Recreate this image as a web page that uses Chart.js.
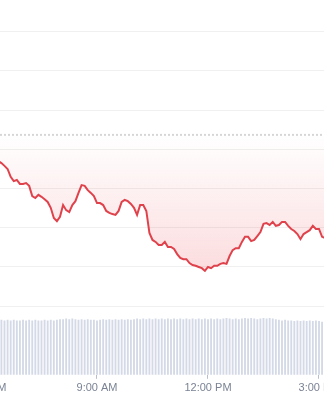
<!DOCTYPE html>
<html>
<head>
<meta charset="utf-8">
<script src="https://cdn.jsdelivr.net/npm/chart.js@4.4.1/dist/chart.umd.min.js"></script>
<style>
  html, body { margin: 0; padding: 0; background: #fff; overflow: hidden; }
  #wrap { position: relative; width: 324px; height: 400px; overflow: hidden; }
  .box { position: absolute; left: -40px; width: 420px; }
</style>
</head>
<body>
<div id="wrap">
  <div class="box" style="top:0;height:312px"><canvas id="priceChart" width="420" height="312"></canvas></div>
  <div class="box" style="top:312px;height:88px"><canvas id="volumeChart" width="420" height="88"></canvas></div>
</div>
<script>
// minutes since midnight, one sample every 5 minutes
const startMinute = 380;
const stepMinutes = 5;

const prices = [
  62.70, 62.65, 62.58, 62.50, 62.30, 62.19, 62.22, 62.12, 62.12, 62.14,
  62.07, 61.81, 61.76, 61.84, 61.79, 61.73, 61.66, 61.51, 61.25, 61.17,
  61.28, 61.58, 61.45, 61.40, 61.58, 61.68, 61.89, 62.09, 62.07, 61.96,
  61.89, 61.81, 61.63, 61.63, 61.58, 61.43, 61.38, 61.35, 61.33, 61.43,
  61.66, 61.71, 61.68, 61.61, 61.51, 61.33, 61.58, 61.58, 61.43, 60.87,
  60.69, 60.64, 60.56, 60.56, 60.64, 60.51, 60.51, 60.46, 60.33, 60.23,
  60.20, 60.20, 60.10, 60.05, 60.03, 60.00, 59.97, 59.90, 60.00, 59.97,
  60.03, 60.03, 60.08, 60.10, 60.08, 60.28, 60.43, 60.48, 60.48, 60.64,
  60.77, 60.77, 60.66, 60.69, 60.79, 60.89, 61.10, 61.12, 61.07, 61.15,
  61.05, 61.07, 61.15, 61.15, 61.05, 60.97, 60.92, 60.84, 60.71, 60.84,
  60.89, 60.94, 61.05, 60.97, 60.97, 60.77, 60.74
];

const volumes = [
  86, 87, 86, 87, 86, 87, 86, 86, 87, 86, 87,
  86, 87, 86, 86, 87, 86, 87, 86, 87, 88,
  88, 89, 88, 89, 88, 87, 88, 87, 88, 87,
  87, 86, 87, 88, 87, 88, 87, 88, 87, 88,
  87, 88, 87, 88, 89, 88, 89, 88, 89, 88,
  89, 88, 89, 88, 89, 88, 89, 88, 89, 88,
  89, 88, 89, 88, 89, 88, 89, 88, 89, 88,
  89, 88, 89, 90, 89, 88, 89, 88, 89, 90,
  89, 90, 89, 88, 89, 90, 89, 90, 89, 88,
  87, 86, 87, 86, 86, 85, 86, 85, 86, 85,
  86, 85, 86, 85, 84, 85
];

const openPrice = 63.37;
const priceGrid = [59, 60, 61, 62, 63, 64, 65, 66];
const tickValues = [360, 540, 720, 900];
const tickLabels = ['6:00 AM', '9:00 AM', '12:00 PM', '3:00 PM'];

const xMin = 317.84;
const xMax = 998.92;

const times = prices.map((_, i) => startMinute + i * stepMinutes);
const pricePoints = prices.map((p, i) => ({ x: times[i], y: p }));
const volumePoints = volumes.map((v, i) => ({ x: times[i], y: v }));

function redFill(context) {
  const chart = context.chart;
  const { ctx, chartArea, scales } = chart;
  if (!chartArea) return 'rgba(234,57,67,0.1)';
  const top = scales.y.getPixelForValue(openPrice);
  const bottom = scales.y.getPixelForValue(59.8);
  const g = ctx.createLinearGradient(0, top, 0, bottom);
  g.addColorStop(0, 'rgba(234,57,67,0.0)');
  g.addColorStop(1, 'rgba(234,57,67,0.18)');
  return g;
}

new Chart(document.getElementById('priceChart'), {
  type: 'line',
  data: {
    datasets: [
      {
        data: pricePoints,
        borderColor: '#e0424b',
        borderWidth: 2,
        pointRadius: 0,
        tension: 0,
        fill: { value: openPrice },
        backgroundColor: redFill,
      },
      {
        data: [{ x: xMin, y: openPrice }, { x: xMax, y: openPrice }],
        borderColor: 'rgba(0,0,0,0.16)',
        borderWidth: 2,
        borderDash: [2, 2],
        pointRadius: 0,
        fill: false,
      }
    ]
  },
  options: {
    responsive: false,
    animation: false,
    devicePixelRatio: 1,
    layout: { padding: 0 },
    plugins: { legend: { display: false }, tooltip: { enabled: false } },
    scales: {
      x: { type: 'linear', min: xMin, max: xMax, display: false },
      y: {
        min: 58.852,
        max: 66.811,
        afterBuildTicks: axis => { axis.ticks = priceGrid.map(v => ({ value: v })); },
        ticks: { display: false },
        border: { display: false },
        grid: { color: 'rgba(0,0,0,0.06)', drawTicks: false }
      }
    }
  }
});

new Chart(document.getElementById('volumeChart'), {
  type: 'bar',
  data: {
    datasets: [{
      data: volumePoints,
      backgroundColor: '#d3d9e6',
      barThickness: 1.2,
    }]
  },
  options: {
    responsive: false,
    animation: false,
    devicePixelRatio: 1,
    layout: { padding: { bottom: 2 } },
    plugins: { legend: { display: false }, tooltip: { enabled: false } },
    scales: {
      x: {
        type: 'linear',
        min: xMin,
        max: xMax,
        offset: false,
        afterBuildTicks: axis => { axis.ticks = tickValues.map(v => ({ value: v })); },
        ticks: {
          autoSkip: false,
          maxRotation: 0,
          padding: 3,
          color: '#7a8394',
          font: { family: '"Liberation Sans", Arial, sans-serif', size: 11 },
          callback: value => tickLabels[tickValues.indexOf(value)] || ''
        },
        border: { display: false },
        grid: { offset: false, drawOnChartArea: false, drawTicks: true, tickLength: 4, color: '#b9bfca' }
      },
      y: { min: 0, max: 100, display: false }
    }
  }
});
</script>
</body>
</html>
